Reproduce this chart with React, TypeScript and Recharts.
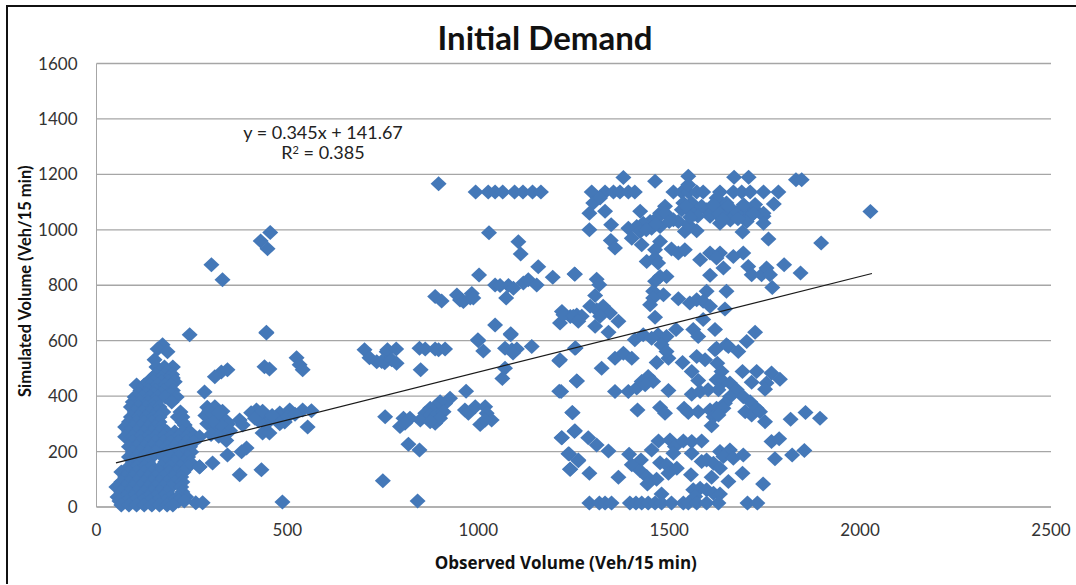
import { CartesianGrid, Label, Scatter, ScatterChart, XAxis, YAxis } from 'recharts';

const xTicks = [0, 500, 1000, 1500, 2000, 2500];
const yTicks = [0, 200, 400, 600, 800, 1000, 1200, 1400, 1600];

// dense block near the origin, one row per simulated level: [simulated, observed...]
const towerRows: number[][] = [
  [585, 173], [570, 160], [560, 186], [531, 152], [505, 157, 178, 200], [490, 165, 185],
  [478, 155, 178, 198], [465, 147, 170, 190, 200], [452, 135, 150, 170, 188, 205],
  [440, 105, 125, 140, 160, 180, 195], [420, 115, 135, 155, 175, 200],
  [408, 110, 130, 150, 170, 195], [397, 100, 120, 140, 160, 180, 210],
  [379, 95, 115, 135, 155, 197], [361, 90, 110, 130, 150, 165],
  [343, 100, 120, 140, 160, 175, 220], [325, 90, 110, 130, 150, 165, 213, 225],
  [307, 85, 105, 125, 145, 165, 225], [296, 231], [289, 75, 95, 115, 135, 155, 170],
  [271, 85, 105, 125, 145, 165, 185, 205, 225, 245],
  [253, 75, 95, 115, 135, 155, 175, 195, 215, 235, 255, 270],
  [235, 95, 115, 135, 155, 175, 195, 215, 235, 255],
  [217, 85, 105, 125, 145, 165, 185, 205, 225, 245],
  [198, 95, 115, 135, 155, 185, 205, 230, 248],
  [180, 85, 105, 125, 145, 175, 195, 215, 240],
  [162, 95, 115, 135, 180, 205, 230, 245],
  [145, 85, 105, 125, 145, 170, 195, 220, 240, 270],
  [126, 65, 85, 105, 125, 145, 165, 190, 210, 228],
  [108, 75, 95, 115, 135, 155, 175, 200, 222],
  [90, 65, 85, 105, 125, 145, 165, 185, 205, 225],
  [72, 52, 75, 95, 115, 135, 155, 175, 195, 222],
  [54, 65, 85, 105, 125, 145, 165, 185, 225],
  [36, 55, 75, 95, 115, 135, 155, 175, 195, 215, 235],
  [22, 60, 80, 100, 120, 140, 160, 180, 200, 215, 230],
  [7, 65, 85, 105, 125, 145, 165, 185, 200],
  [15, 260, 278],
];

const leftSpread = [
  [244, 621], [445, 628], [327, 487], [310, 470], [343, 495], [440, 506], [453, 498],
  [524, 538], [532, 513], [540, 495], [283, 415], [290, 360], [310, 362], [330, 345],
  [300, 330], [320, 320], [340, 310], [290, 300], [310, 290], [330, 280], [350, 275],
  [300, 262], [320, 255], [340, 240], [375, 314], [383, 296], [419, 350], [430, 330],
  [405, 340], [435, 267], [453, 267], [445, 300], [480, 339], [506, 350], [540, 350],
  [563, 347], [493, 307], [470, 320], [553, 289], [487, 18], [432, 134], [375, 116],
  [343, 188], [304, 159], [393, 213], [380, 199], [270, 144], [301, 874], [330, 820],
  [430, 960], [448, 932], [455, 990], [445, 630], [285, 330], [345, 300], [325, 298],
  [305, 310], [295, 345], [320, 340], [425, 310], [415, 320], [435, 345], [460, 330],
  [500, 325], [520, 335], [480, 300],
];

const midSpread = [
  [702, 567], [715, 538], [734, 524], [755, 520], [760, 560], [762, 567], [785, 570],
  [747, 525], [773, 531], [786, 519], [846, 573], [861, 570], [887, 570], [896, 567],
  [913, 570], [849, 495], [1070, 573], [1088, 567], [1101, 570], [1140, 579], [1091, 556],
  [1212, 528], [1070, 501], [1063, 464], [968, 418], [1212, 418], [1258, 455], [1255, 574],
  [926, 392], [913, 373], [900, 380], [887, 362], [874, 356], [861, 338], [848, 314],
  [874, 332], [891, 332], [909, 344], [887, 302], [900, 320], [874, 308], [795, 290],
  [804, 320], [821, 320], [808, 302], [756, 326], [817, 226], [846, 206], [750, 95],
  [841, 22], [965, 350], [974, 338], [992, 362], [1018, 362], [1022, 338], [1035, 314],
  [1005, 298], [1018, 314], [1219, 250], [1252, 272], [1247, 340], [1238, 191], [1262, 167],
  [1241, 136], [896, 1166], [993, 1136], [1026, 1136], [1044, 1136], [1064, 1136],
  [1095, 1136], [1117, 1136], [1142, 1136], [1164, 1136], [1028, 989], [1105, 957],
  [1111, 913], [1157, 867], [1195, 829], [1252, 841], [1002, 837], [1044, 801], [1057, 799],
  [1079, 799], [1092, 789], [1118, 808], [1131, 820], [1153, 801], [1073, 754], [887, 759],
  [904, 743], [944, 765], [952, 747], [961, 741], [983, 770], [979, 754], [987, 754],
  [1219, 705], [1241, 687], [1258, 693], [1214, 664], [1044, 657], [1085, 625], [999, 603],
  [1000, 600], [1013, 563], [1085, 621],
];

const upperBand = [
  [1380, 1189], [1463, 1175], [1550, 1193], [1670, 1190], [1708, 1190], [1832, 1181], [1847, 1181],
  [1297, 1136], [1332, 1136], [1354, 1136], [1371, 1136], [1393, 1136], [1410, 1136], [1511, 1136],
  [1533, 1136], [1550, 1136], [1572, 1136], [1589, 1136], [1633, 1136], [1668, 1136], [1690, 1136],
  [1712, 1136], [1747, 1136], [1786, 1136], [1550, 1163], [1301, 1097], [1319, 1115], [1291, 1060],
  [1332, 1067], [1424, 1067], [1348, 1018], [1291, 1000], [1774, 1093], [1489, 1085], [1476, 1060],
  [1450, 1030], [1432, 1024], [1415, 1012], [1393, 1006], [1424, 994], [1402, 970], [1428, 946],
  [1467, 1042], [1511, 1036], [1476, 1012], [1454, 1006], [1524, 1030], [1533, 1072], [1550, 1072],
  [1572, 1072], [1598, 1072], [1620, 1072], [1642, 1072], [1664, 1072], [1685, 1072], [1707, 1072],
  [1725, 1072], [1537, 1097], [1559, 1097], [1633, 1097], [1650, 1097], [1624, 1115], [1607, 1049],
  [1633, 1049], [1650, 1049], [1694, 1049], [1712, 1049], [1747, 1049], [1633, 1024], [1703, 1030],
  [1747, 1060], [1747, 1024], [1725, 1091], [1541, 994], [1572, 997], [1550, 1018], [1692, 992],
  [1760, 967], [1898, 952], [2027, 1066], [1347, 961], [1358, 934], [1476, 958], [1463, 928],
  [1506, 931], [1524, 916], [1541, 928], [1441, 886], [1463, 898], [1471, 880], [1581, 892],
  [1607, 916], [1633, 916], [1624, 898], [1642, 862], [1668, 904], [1694, 916], [1707, 868],
  [1716, 838], [1742, 838], [1755, 862], [1764, 838], [1801, 874], [1844, 844], [1607, 836],
  [1253, 840], [1310, 822], [1317, 802], [1493, 832], [1476, 832], [1463, 814], [1306, 763],
  [1458, 778], [1485, 766], [1458, 754], [1450, 730], [1524, 751], [1598, 778], [1650, 778],
  [1770, 792], [1554, 736], [1572, 748], [1589, 742], [1607, 724], [1646, 714], [1463, 685],
  [1293, 724], [1310, 712], [1327, 724], [1345, 700], [1367, 670], [1319, 688], [1223, 694],
  [1249, 688], [1271, 688], [1262, 670], [1306, 652], [1341, 630], [1589, 676], [1563, 640],
  [1576, 615], [1620, 640], [1518, 640], [1725, 630], [1703, 597], [1410, 603], [1432, 621],
  [1471, 621], [1454, 609], [1493, 615], [1480, 585], [1650, 585], [1624, 573],
  [1545, 1085], [1565, 1055], [1585, 1085], [1610, 1060], [1630, 1060], [1655, 1085], [1675, 1058],
  [1695, 1090], [1720, 1058], [1660, 1035], [1640, 1038], [1680, 1040], [1615, 1090], [1575, 1050],
  [1555, 1045], [1490, 1060], [1500, 1030], [1465, 1020], [1440, 1000],
];

const lowerBand = [
  [1253, 573], [1214, 531], [1323, 501], [1358, 537], [1380, 555], [1402, 537], [1467, 521],
  [1498, 537], [1493, 561], [1535, 521], [1572, 543], [1594, 531], [1620, 567], [1655, 579],
  [1681, 561], [1559, 489], [1626, 519], [1637, 489], [1624, 459], [1642, 453], [1576, 456],
  [1692, 489], [1729, 489], [1768, 483], [1790, 461], [1716, 450], [1755, 447], [1751, 425],
  [1659, 447], [1677, 423], [1659, 398], [1646, 374], [1694, 398], [1712, 380], [1258, 455],
  [1217, 417], [1358, 417], [1393, 417], [1415, 429], [1428, 453], [1445, 471], [1458, 453],
  [1437, 441], [1498, 420], [1559, 407], [1581, 417], [1602, 423], [1629, 423], [1246, 341],
  [1417, 350], [1476, 359], [1489, 338], [1539, 356], [1550, 341], [1576, 344], [1607, 350],
  [1624, 356], [1642, 356], [1616, 326], [1629, 332], [1611, 293], [1699, 344], [1716, 332],
  [1729, 356], [1738, 344], [1751, 308], [1818, 317], [1857, 341], [1895, 320], [1253, 275],
  [1218, 250], [1288, 250], [1310, 224], [1341, 202], [1236, 192], [1262, 170], [1240, 136],
  [1291, 122], [1367, 107], [1472, 238], [1454, 206], [1502, 242], [1515, 218], [1537, 238],
  [1559, 236], [1585, 238], [1559, 194], [1511, 194], [1395, 190], [1426, 170], [1402, 152],
  [1424, 131], [1441, 110], [1467, 100], [1443, 83], [1476, 160], [1493, 152], [1520, 140],
  [1498, 122], [1557, 116], [1598, 170], [1616, 158], [1585, 164], [1633, 140], [1611, 107],
  [1633, 200], [1659, 206], [1642, 182], [1668, 176], [1694, 188], [1777, 174], [1822, 188],
  [1854, 204], [1768, 236], [1788, 246], [1692, 122], [1655, 92], [1746, 83], [1480, 47],
  [1563, 62], [1581, 68], [1598, 62], [1616, 50], [1633, 47], [1568, 38], [1291, 14], [1317, 14],
  [1332, 14], [1349, 14], [1397, 14], [1413, 14], [1428, 14], [1445, 14], [1463, 14], [1480, 14],
  [1506, 14], [1537, 14], [1550, 14], [1572, 14], [1598, 14], [1629, 14], [1705, 14], [1731, 14],
];

const towerPoints = towerRows.flatMap(([y, ...xs]) => xs.map((x) => [x, y]));
const volumes = [...towerPoints, ...leftSpread, ...midSpread, ...upperBand, ...lowerBand].map(([x, y]) => ({ x, y }));

const trendSlope = 0.345;
const trendIntercept = 141.67;
const trendX = [51, 2031];
const trendLine = trendX.map((x) => ({ x, y: trendSlope * x + trendIntercept }));

const FONT = 'Lato, sans-serif';
const GRID = '#a6a6a6';
const tickStyle = { fontSize: 17, fontFamily: FONT, fill: '#333' };

// excel style marker, wider than the library's own diamond
function Diamond({ cx, cy }: any) {
  return <polygon points={`${cx - 8},${cy} ${cx},${cy - 7.5} ${cx + 8},${cy} ${cx},${cy + 7.5}`} fill="#4478b8" />;
}

export default function App() {
  return (
    <div style={{ position: 'absolute', left: 0, top: 0, width: 1076, height: 585, background: '#fff', overflow: 'hidden' }}>
      <div style={{ position: 'absolute', left: 6, top: 5, right: -4, bottom: 1, borderLeft: '2px solid #111', borderTop: '2px solid #111' }} />
      <ScatterChart
        width={1076}
        height={585}
        margin={{ top: 63.5, right: 25, bottom: 38, left: 40.5 }}
        style={{ position: 'absolute', left: 0, top: 0 }}
      >
        <CartesianGrid horizontal vertical={false} stroke={GRID} strokeWidth={1.3} />
        <XAxis
          type="number"
          dataKey="x"
          domain={[0, 2500]}
          ticks={xTicks}
          height={40}
          tickLine={false}
          tickMargin={11}
          axisLine={{ stroke: GRID }}
          tick={tickStyle}
          interval={0}
        >
          <Label
            value="Observed Volume (Veh/15 min)"
            position="insideBottom"
            offset={-22}
            dx={-8}
            style={{ fontSize: 17, fontWeight: 700, fontFamily: '"Open Sans", sans-serif', fill: '#111' }}
          />
        </XAxis>
        <YAxis
          type="number"
          dataKey="y"
          domain={[0, 1600]}
          ticks={yTicks}
          width={56}
          tickLine={false}
          tickMargin={13}
          axisLine={{ stroke: GRID }}
          tick={tickStyle}
          interval={0}
        >
          <Label
            value="Simulated Volume (Veh/15 min)"
            angle={-90}
            position="insideLeft"
            dx={-20}
            dy={-4}
            style={{ textAnchor: 'middle', fontSize: 16.5, fontWeight: 700, fontFamily: FONT, fill: '#111' }}
          />
        </YAxis>
        <Scatter data={volumes} shape={Diamond} isAnimationActive={false} />
        <Scatter data={trendLine} line={{ stroke: '#1a1a1a', strokeWidth: 1.2 }} shape={() => <g />} isAnimationActive={false} />
        <text x={545} y={50} textAnchor="middle" fontSize={33} fontWeight={700} fontFamily={FONT} fill="#111">
          Initial Demand
        </text>
        <text x={323} y={139} textAnchor="middle" fontSize={18} fontFamily={FONT} fill="#222">
          y = 0.345x + 141.67
        </text>
        <text x={323} y={159} textAnchor="middle" fontSize={18} fontFamily={FONT} fill="#222">
          R<tspan dy={-5} fontSize={11}>2</tspan><tspan dy={5}> = 0.385</tspan>
        </text>
      </ScatterChart>
    </div>
  );
}
